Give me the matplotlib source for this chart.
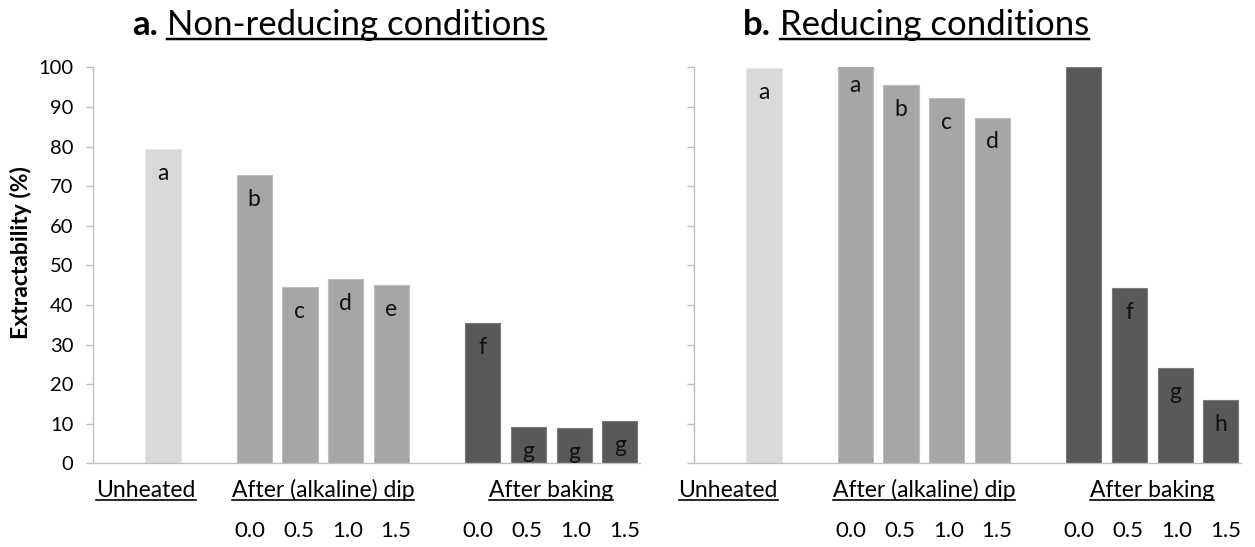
import matplotlib
matplotlib.use('Agg')
import matplotlib.pyplot as plt
import matplotlib.transforms as mtransforms
from matplotlib.lines import Line2D

plt.rcParams['font.family'] = ['Lato', 'DejaVu Sans']

# ---- data ----
groups = ['Unheated', 'After (alkaline) dip', 'After baking']
doses = ['0.0', '0.5', '1.0', '1.5']

nonred_unheated = 79.4
nonred_dip = [72.8, 44.4, 46.5, 45.0]
nonred_bake = [35.4, 9.1, 8.9, 10.6]
nonred_letters = ['a', 'b', 'c', 'd', 'e', 'f', 'g', 'g', 'g']

red_unheated = 99.7
red_dip = [101.6, 95.5, 92.3, 87.3]   # first bar runs past the 100 limit
red_bake = [100.0, 44.3, 24.0, 16.0]
red_letters = ['a', 'a', 'b', 'c', 'd', '', 'f', 'g', 'h']

group_colors = ['#d9d9d9', '#a6a6a6', '#595959']
edge_colors = ['#e9e9e9', '#bdbdbd', '#7a7a7a']

W, H = 1255, 547
fig = plt.figure(figsize=(W / 100, H / 100), dpi=100)


def fx(x):
    return x / W


def fy(y):
    return 1 - y / H


pos = [0, 2, 3, 4, 5, 7, 8, 9, 10]
to_underline = []


def panel(left_px, unheated, dip, bake, letters, show_labels, unheated_x):
    ax = fig.add_axes([fx(left_px), fy(463.3), 546.5 / W, 396 / H])
    vals = [unheated] + dip + bake
    cols = [group_colors[0]] + [group_colors[1]] * 4 + [group_colors[2]] * 4
    edges = [edge_colors[0]] + [edge_colors[1]] * 4 + [edge_colors[2]] * 4
    ax.bar(pos, vals, width=0.77, color=cols, edgecolor=edges, linewidth=0.8)
    for x, v, lab in zip(pos, vals, letters):
        if lab:
            ax.annotate(lab, (x, v), xytext=(0, -17.5), textcoords='offset points',
                        ha='center', va='center', fontsize=16.5, color='#111111',
                        annotation_clip=False)
    ax.set_xlim(-1.53, 10.43)
    ax.set_ylim(0, 100)
    ax.set_yticks(range(0, 101, 10))
    ax.set_xticks([])
    for s in ['top', 'right']:
        ax.spines[s].set_visible(False)
    for s in ['left', 'bottom']:
        ax.spines[s].set_color('#bfbfbf')
        ax.spines[s].set_linewidth(1.0)
    ax.tick_params(axis='y', direction='out', length=5, width=1, color='#bfbfbf',
                   labelsize=14.5, pad=9, labelleft=show_labels)

    # group labels and dose labels below the axis
    tr = mtransforms.blended_transform_factory(ax.transData, fig.transFigure)
    centers = [unheated_x, 3.5, 8.5]
    for c, g in zip(centers, groups):
        t = ax.text(c, fy(497), g, transform=tr, ha='center', va='baseline', fontsize=16.5)
        to_underline.append(t)
    for c in [3.5, 8.5]:
        for i, d in enumerate(doses):
            ax.text(c + (i - 1.5) * 1.07, fy(537), d, ha='center', va='baseline',
                    fontsize=16, transform=tr)
    return ax


panel(93, nonred_unheated, nonred_dip, nonred_bake, nonred_letters, True, -0.37)
panel(694, red_unheated, red_dip, red_bake, red_letters, False, -0.78)

fig.text(fx(21), fy(253), 'Extractability (%)', rotation=90, ha='center', va='center',
         fontsize=16.5, fontweight='bold')

# titles: bold prefix + underlined text
titles = [(132, 'a.', 'Non-reducing conditions'), (743, 'b.', 'Reducing conditions')]
heads = []
for x0, pre, rest in titles:
    heads.append(fig.text(fx(x0), fy(35), pre, fontsize=25, fontweight='bold', va='baseline'))

fig.canvas.draw()
r = fig.canvas.get_renderer()
for (x0, pre, rest), h in zip(titles, heads):
    bb = h.get_window_extent(r)
    t = fig.text(fx(bb.x1 + 9), fy(35), rest, fontsize=25, va='baseline')
    to_underline.append(t)

fig.canvas.draw()
for t in to_underline:
    bb = t.get_window_extent(r)
    size = t.get_fontsize()
    base_y = t.get_transform().transform(t.get_position())[1]
    off = size * 0.1 * 100 / 72 + 1
    y = (base_y - off) / H
    fig.add_artist(Line2D([bb.x0 / W, bb.x1 / W], [y, y], transform=fig.transFigure,
                          color='black', linewidth=size / 14))

fig.savefig('out.png', dpi=100)
